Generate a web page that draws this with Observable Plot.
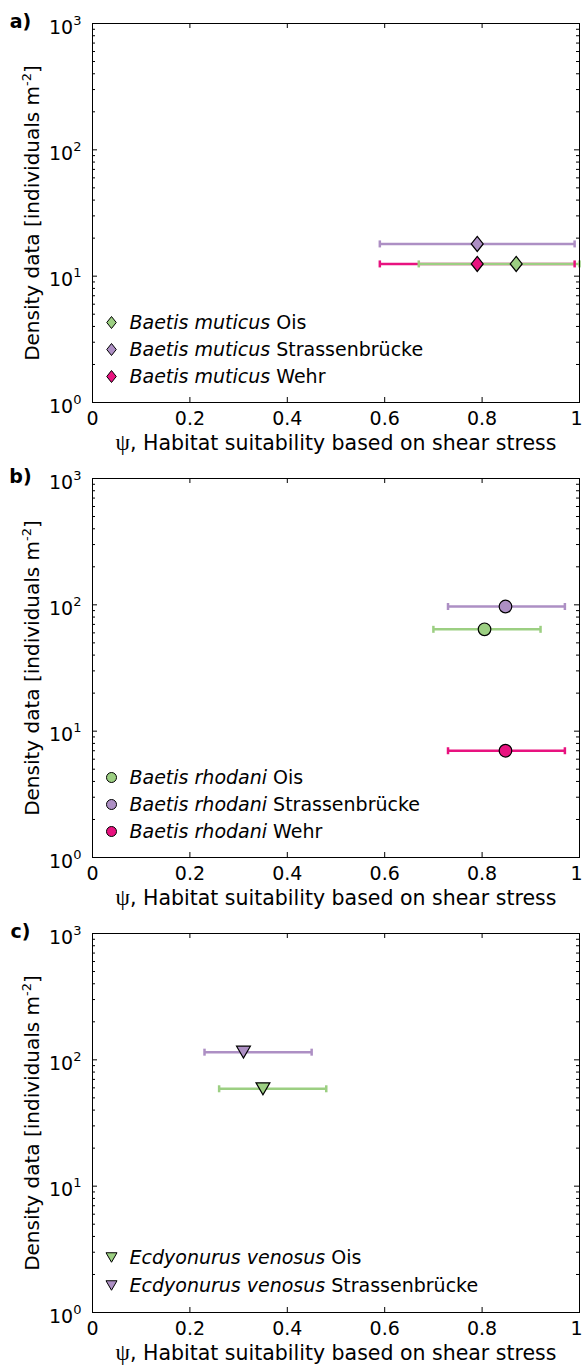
<!DOCTYPE html>
<html>
<head>
<meta charset="utf-8">
<script src="https://cdn.jsdelivr.net/npm/d3@7"></script>
<script src="https://cdn.jsdelivr.net/npm/@observablehq/plot@0.6"></script>
<style>
  html, body { margin: 0; padding: 0; background: #fff; }
  #fig { position: relative; width: 582px; height: 1365px; overflow: hidden; background: #fff; }
  #fig svg { position: absolute; left: 0; }
</style>
</head>
<body>
<div id="fig"></div>
<script>
// ---- axes ----
const xTicks = [0, 0.2, 0.4, 0.6, 0.8, 1];
const yTicks = [1, 10, 100, 1000];
const yMinorTicks = [2, 3, 4, 5, 6, 7, 8, 9, 20, 30, 40, 50, 60, 70, 80, 90, 200, 300, 400, 500, 600, 700, 800, 900];
const xLabel = "ψ, Habitat suitability based on shear stress";
const yLabel = "Density data [individuals m^-2]";

// ---- sampling sites ----
const sites = ["Ois", "Strassenbrücke", "Wehr"];
const siteColors = ["#9ccf82", "#ad8fc4", "#e8127f"];

// ---- a) Baetis muticus ----
const muticusSites = ["Ois", "Strassenbrücke", "Wehr"];
const muticusPsi = [0.87, 0.79, 0.79];
const muticusPsiLow = [0.67, 0.59, 0.59];
const muticusPsiHigh = [1.0, 0.99, 0.99];
const muticusDensity = [12.5, 18, 12.5];

// ---- b) Baetis rhodani ----
const rhodaniSites = ["Ois", "Strassenbrücke", "Wehr"];
const rhodaniPsi = [0.805, 0.848, 0.848];
const rhodaniPsiLow = [0.70, 0.73, 0.73];
const rhodaniPsiHigh = [0.92, 0.97, 0.97];
const rhodaniDensity = [64, 97, 7];

// ---- c) Ecdyonurus venosus ----
const venosusSites = ["Ois", "Strassenbrücke"];
const venosusPsi = [0.35, 0.31];
const venosusPsiLow = [0.26, 0.23];
const venosusPsiHigh = [0.48, 0.45];
const venosusDensity = [59, 115];

// ---- marker shapes ----
const diamond = {draw(ctx, size) {
  const r = Math.sqrt(size / Math.PI), h = r * 1.2, w = r * 0.95;
  ctx.moveTo(0, -h); ctx.lineTo(w, 0); ctx.lineTo(0, h); ctx.lineTo(-w, 0); ctx.closePath();
}};
const circle = {draw(ctx, size) {
  const r = Math.sqrt(size / Math.PI);
  ctx.moveTo(r, 0); ctx.arc(0, 0, r, 0, 2 * Math.PI);
}};
const triangleDown = {draw(ctx, size) {
  const r = Math.sqrt(size / Math.PI), w = r * 1.1, h = r * 0.95;
  ctx.moveTo(-w, -h); ctx.lineTo(w, -h); ctx.lineTo(0, h); ctx.closePath();
}};
const errorCap = {draw(ctx, size) {
  const r = Math.sqrt(size / Math.PI);
  ctx.moveTo(0, -r); ctx.lineTo(0, r);
}};

const panels = [
  {letter: "a)", species: "Baetis muticus", symbol: diamond, sites: muticusSites, legendStep: 27,
   psi: muticusPsi, lo: muticusPsiLow, hi: muticusPsiHigh, density: muticusDensity},
  {letter: "b)", species: "Baetis rhodani", symbol: circle, sites: rhodaniSites, legendStep: 27,
   psi: rhodaniPsi, lo: rhodaniPsiLow, hi: rhodaniPsiHigh, density: rhodaniDensity},
  {letter: "c)", species: "Ecdyonurus venosus", symbol: triangleDown, sites: venosusSites, legendStep: 28,
   psi: venosusPsi, lo: venosusPsiLow, hi: venosusPsiHigh, density: venosusDensity}
];

const W = 582, H = 455;
const M = {top: 23, right: 3, bottom: 53, left: 92};
const innerW = W - M.left - M.right, innerH = H - M.top - M.bottom;
const font = "DejaVu Sans";
const SVGNS = "http://www.w3.org/2000/svg";

function richText(el, segments) {
  el.textContent = "";
  for (const s of segments) {
    const t = document.createElementNS(SVGNS, "tspan");
    t.textContent = s.text;
    if (s.italic) t.setAttribute("font-style", "italic");
    if (s.family) t.setAttribute("font-family", s.family);
    if (s.size) t.setAttribute("font-size", s.size);
    if (s.dy) t.setAttribute("dy", s.dy);
    el.appendChild(t);
  }
}

function buildPanel(p) {
  const rows = p.sites.map((site, i) => ({site, psi: p.psi[i], lo: p.lo[i], hi: p.hi[i], density: p.density[i]}));
  const barRows = rows.slice().reverse();
  const n = rows.length;
  const legendMarks = rows.flatMap((d, i) => {
    const dy = -p.legendStep * (n - i) + 1;
    return [
      Plot.dot([d.site], {frameAnchor: "bottom-left", dx: 19, dy, symbol: p.symbol, r: 5,
        fill: s => s, stroke: "black", strokeWidth: 1}),
      Plot.text([`${p.species}|${d.site}`], {frameAnchor: "bottom-left", dx: 37, dy,
        text: s => s, textAnchor: "start", lineAnchor: "middle", fontSize: 19})
    ];
  });

  return Plot.plot({
    width: W, height: H,
    marginTop: M.top, marginRight: M.right, marginBottom: M.bottom, marginLeft: M.left,
    style: {fontFamily: font, fontSize: "19px", color: "black", background: "transparent", overflow: "visible"},
    x: {domain: [0, 1]},
    y: {type: "log", domain: [1, 1000]},
    color: {domain: sites, range: siteColors},
    marks: [
      // inward ticks on all four sides
      Plot.tickX(xTicks, {x: d => d, insetTop: innerH - 5, stroke: "black"}),
      Plot.tickX(xTicks, {x: d => d, insetBottom: innerH - 5, stroke: "black"}),
      Plot.tickY(yTicks, {y: d => d, insetRight: innerW - 5, stroke: "black"}),
      Plot.tickY(yTicks, {y: d => d, insetLeft: innerW - 5, stroke: "black"}),
      Plot.tickY(yMinorTicks, {y: d => d, insetRight: innerW - 3, stroke: "black"}),
      Plot.tickY(yMinorTicks, {y: d => d, insetLeft: innerW - 3, stroke: "black"}),
      // tick labels (the last one nudged in so it stays inside the page edge)
      Plot.axisX(xTicks.slice(0, -1), {tickSize: 0, tickPadding: 9, tickFormat: d => String(d), label: null, fontSize: 19}),
      Plot.axisX(xTicks.slice(-1), {tickSize: 0, tickPadding: 9, tickFormat: d => String(d), label: null, fontSize: 19, dx: -3}),
      Plot.axisY(yTicks, {tickSize: 0, tickPadding: 11, tickFormat: d => "10^" + Math.round(Math.log10(d)), label: null, fontSize: 19}),
      // axis titles and panel letter
      Plot.text([xLabel], {frameAnchor: "bottom", dy: 41, text: d => d, textAnchor: "middle", lineAnchor: "middle", fontSize: 20.5}),
      Plot.text([yLabel], {frameAnchor: "left", dx: -60, rotate: -90, text: d => d, textAnchor: "middle", lineAnchor: "middle", fontSize: 20}),
      Plot.text([p.letter], {frameAnchor: "top-left", dx: -72, dy: -2, text: d => d, textAnchor: "middle", lineAnchor: "middle", fontSize: 19, fontWeight: "bold"}),
      // horizontal error bars with end caps
      Plot.ruleY(barRows, {y: "density", x1: "lo", x2: "hi", stroke: "site", strokeWidth: 2.5}),
      Plot.dot(barRows, {x: "lo", y: "density", symbol: errorCap, r: 3.5, fill: "none", stroke: "site", strokeWidth: 2.5}),
      Plot.dot(barRows, {x: "hi", y: "density", symbol: errorCap, r: 3.5, fill: "none", stroke: "site", strokeWidth: 2.5}),
      // means
      Plot.dot(rows, {x: "psi", y: "density", symbol: p.symbol, r: 6.3, fill: "site", stroke: "black", strokeWidth: 1.2}),
      ...legendMarks,
      Plot.frame({stroke: "black", strokeWidth: 1})
    ]
  });
}

// mixed styling inside single labels: superscripts, italic species names, serif psi
function styleTexts(svg) {
  svg.querySelectorAll("text").forEach(t => {
    const s = t.textContent;
    if (/^10\^\d$/.test(s)) {
      const [base, exp] = s.split("^");
      richText(t, [{text: base, dy: "4"}, {text: exp, size: 13, dy: "-9"}]);
    } else if (s.includes("|")) {
      const [species, site] = s.split("|");
      richText(t, [{text: species, italic: true}, {text: " " + site}]);
    } else if (s.startsWith("Density")) {
      const [main, rest] = s.split("^");
      richText(t, [{text: main}, {text: rest.replace("]", ""), size: 13, dy: "-8"}, {text: "]", dy: "8"}]);
    } else if (s.startsWith("ψ")) {
      richText(t, [{text: "ψ", family: "Liberation Serif", size: 23}, {text: s.slice(1)}]);
    }
  });
}

const fig = document.getElementById("fig");
panels.forEach((p, k) => {
  const svg = buildPanel(p);
  svg.style.top = (k * H) + "px";
  fig.appendChild(svg);
  styleTexts(svg);
});
</script>
</body>
</html>
